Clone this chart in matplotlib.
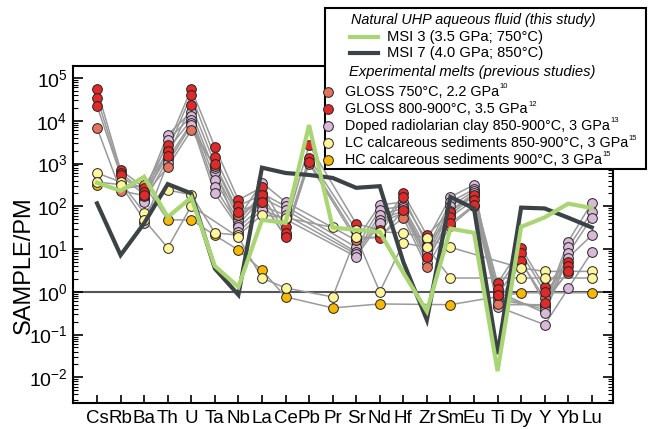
import numpy as np
import matplotlib
matplotlib.use("Agg")
import matplotlib.pyplot as plt
from matplotlib.lines import Line2D
from matplotlib.patches import Rectangle
from matplotlib.ticker import FixedLocator, LogLocator, NullFormatter

plt.rcParams['font.family'] = ['Liberation Sans', 'DejaVu Sans']
plt.rcParams['mathtext.fontset'] = 'custom'
plt.rcParams['mathtext.rm'] = 'Liberation Sans'
plt.rcParams['mathtext.it'] = 'Liberation Sans:italic'

nan = np.nan
elements = ["Cs", "Rb", "Ba", "Th", "U", "Ta", "Nb", "La", "Ce", "Pb", "Pr",
            "Sr", "Nd", "Hf", "Zr", "Sm", "Eu", "Ti", "Dy", "Y", "Yb", "Lu"]

# natural UHP fluids (this study)
msi3 = [355, 230, 490, 56, 160, 4.0, 1.3, 48, 41, 7900, 32,
        28, 25, 2.8, 0.35, 30, 24, 0.014, 33, 55, 115, 91]
msi7 = [117, 7.2, 40, 330, 200, 3.5, 0.85, 800, 600, 540, 460,
        270, 295, 5.0, 0.22, 165, 89, 0.035, 93, 89, 54, 32]

# experimental melts
gloss750 = [[6800, 230, 178, 830, 6000, 890, 63, 126, 20, 1000, nan,
             16, 20, 54, 3.8, 35, 100, 0.52, 5.0, 0.7, 2.8, nan]]
gloss800 = [
    [54000, 710, 270, 2700, 55000, 2450, 140, 280, 32, 2700, nan,
     39, 28, 200, 21, 74, 186, 1.6, 10.7, 1.3, 5.0, nan],
    [34000, 600, 220, 2000, 40000, 1400, 102, 186, 24, 1350, nan,
     28, 22, 166, 12.6, 56, 141, 1.17, 8.1, 1.0, 4.1, nan],
    [22000, 540, 186, 1500, 23000, 980, 74, 126, 19.5, 1100, nan,
     19.5, 18, 83, 6.6, 40, 107, 0.85, 5.2, 0.55, 3.0, nan],
]
radiolarian = [
    [nan, nan, 200, 4700, 16000, 630, 54, 355, 126, nan, nan,
     16, 107, 126, 16, 166, 316, 0.5, nan, 0.5, 15, 120],
    [nan, nan, 158, 3500, 12600, 420, 45, 200, 100, nan, nan,
     11, 83, 100, 10, 126, 250, 0.63, nan, 0.45, 11, 74],
    [nan, nan, 141, 2100, 10500, 280, 37, 158, 83, nan, nan,
     8.5, 63, 89, 7.9, 100, 224, 0.79, nan, 0.38, 7.9, 54],
    [nan, nan, 126, 1260, 8900, 200, 32, 100, 63, nan, nan,
     7.6, 48, 79, 6.3, 79, 200, 1.0, nan, 0.32, 6.3, 21],
    [nan, nan, 40, 1020, 7900, 790, 25, 83, 50, nan, nan,
     6.6, 40, 71, 4.8, 63, 178, 0.45, nan, 0.17, 1.2, 8.5],
]
lc_calc = [
    [600, 370, 71, 240, 186, 24, 21, 63, 54, nan, 32,
     28, 25, 24, 18, 11, nan, nan, 3.6, 3.0, nan, 3.0],
    [370, 320, 48, 10.7, 102, nan, 19, 2.1, 1.23, nan, 0.76,
     19.5, 1.0, 13.8, 11, 2.1, nan, nan, 2.1, 2.1, nan, 2.1],
]
hc_calc = [[316, 250, 316, 48, 48, 21, 9.5, 3.2, 0.76, nan, 0.42,
            nan, 0.52, nan, nan, 0.5, nan, nan, 0.95, nan, nan, 0.95]]

c_gloss750 = "#e3735c"
c_gloss800 = "#df2a2a"
c_radio = "#d9b8d8"
c_lc = "#fff59a"
c_hc = "#f6b800"

# drawing order (back to front)
groups = [
    (radiolarian, c_radio),
    (hc_calc, c_hc),
    (gloss750, c_gloss750),
    (gloss800, c_gloss800),
    (lc_calc, c_lc),
]

fig = plt.figure(figsize=(6.48, 4.29), dpi=100)
ax = fig.add_axes([73 / 648, 26 / 429, 540 / 648, 337 / 429])
x = np.arange(len(elements))

for samples, color in groups:
    for s in samples:
        s = np.array(s, dtype=float)
        m = ~np.isnan(s)
        ax.plot(x[m], s[m], color="#9a9a9a", lw=1.1, zorder=2)
for samples, color in groups:
    for s in samples:
        s = np.array(s, dtype=float)
        m = ~np.isnan(s)
        ax.plot(x[m], s[m], ls="none", marker="o", ms=7, mfc=color,
                mec="#222222", mew=0.7, zorder=3)

ax.axhline(1, color="#555555", lw=1.5, zorder=1)
ax.plot(x, msi7, color="#3b4346", lw=3, zorder=4, solid_joinstyle="miter")
ax.plot(x, msi3, color="#a9d574", lw=3, zorder=5, solid_joinstyle="miter")

ax.set_yscale("log")
ax.set_ylim(10 ** -2.6, 10 ** 5.28)
ax.set_xlim(-1.02, 21.9)
ax.set_xticks(x)
ax.set_xticklabels(elements, fontsize=13.5)
ax.yaxis.set_major_locator(FixedLocator([10.0 ** k for k in range(-2, 6)]))
ax.yaxis.set_minor_locator(LogLocator(base=10, subs=np.arange(2, 10), numticks=20))
ax.yaxis.set_minor_formatter(NullFormatter())
ax.set_yticklabels([r"$10^{%d}$" % k for k in range(-2, 6)], fontsize=14)
ax.tick_params(axis="y", which="major", direction="in", length=7, width=1.2,
               right=True, pad=4)
ax.tick_params(axis="y", which="minor", direction="in", length=3.5, width=0.8,
               right=True)
ax.tick_params(axis="x", direction="in", length=6, width=1.2, pad=5)
for sp in ax.spines.values():
    sp.set_linewidth(1.5)

fig.text(24 / 648, 1 - 265 / 429, "SAMPLE/PM", rotation=90, fontsize=17,
         ha="center", va="center")


# legend box, drawn by hand in pixel positions
def fx(px):
    return px / 648


def fy(py):
    return 1 - py / 429


fig.patches.append(Rectangle((fx(325), fy(169)), fx(646) - fx(325), fy(8) - fy(169),
                             transform=fig.transFigure, facecolor="white",
                             edgecolor="black", lw=1.5, zorder=10))
fig.text(fx(351), fy(20), "Natural UHP aqueous fluid (this study)", style="italic",
         fontsize=10.4, va="center", zorder=11)
fig.lines.append(Line2D([fx(350), fx(378)], [fy(37), fy(37)], transform=fig.transFigure,
                        color="#a9d574", lw=3, zorder=11))
fig.text(fx(387), fy(37), "MSI 3 (3.5 GPa; 750°C)", fontsize=10.6, va="center", zorder=11)
fig.lines.append(Line2D([fx(350), fx(378)], [fy(53), fy(53)], transform=fig.transFigure,
                        color="#3b4346", lw=3, zorder=11))
fig.text(fx(387), fy(53), "MSI 7 (4.0 GPa; 850°C)", fontsize=10.6, va="center", zorder=11)
fig.text(fx(349), fy(72), "Experimental melts (previous studies)", style="italic",
         fontsize=10.6, va="center", zorder=11)

legend_labels = ["GLOSS 750°C, 2.2 GPa",
                 "GLOSS 800-900°C, 3.5 GPa",
                 "Doped radiolarian clay 850-900°C, 3 GPa",
                 "LC calcareous sediments 850-900°C, 3 GPa",
                 "HC calcareous sediments 900°C, 3 GPa"]
legend_refs = ["10", "12", "13", "15", "15"]
legend_colors = [c_gloss750, c_gloss800, c_radio, c_lc, c_hc]
legend_rows = [92, 109, 126, 143, 160]

renderer = fig.canvas.get_renderer()
for color, label, ref, py in zip(legend_colors, legend_labels, legend_refs, legend_rows):
    fig.lines.append(Line2D([fx(328)], [fy(py)], transform=fig.transFigure, ls="none",
                            marker="o", ms=7, mfc=color, mec="#222222", mew=0.7,
                            zorder=11))
    t = fig.text(fx(345), fy(py), label, fontsize=10.4, va="center", zorder=11)
    bb = t.get_window_extent(renderer)
    fig.text(fx(bb.x1 + 0.5), fy(py - 5), ref, fontsize=5.5, va="center", zorder=11)

plt.savefig("out.png", dpi=100)
plt.close()
